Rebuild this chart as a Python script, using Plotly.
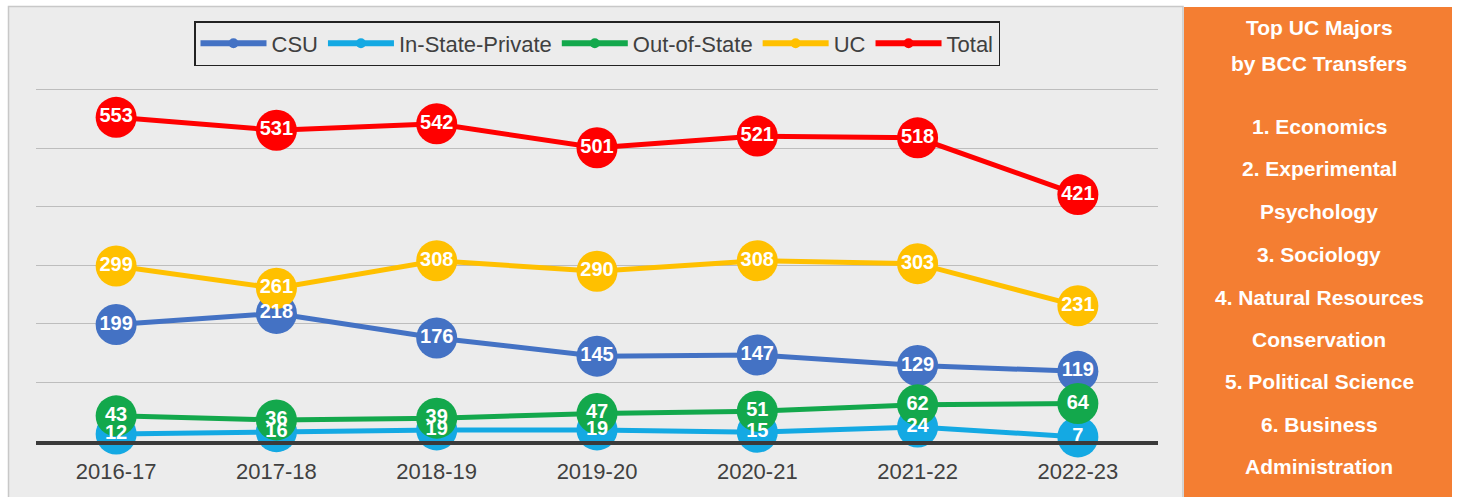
import plotly.graph_objects as go

years = ["2016-17", "2017-18", "2018-19", "2019-20", "2020-21", "2021-22", "2022-23"]
csu = [199, 218, 176, 145, 147, 129, 119]
in_state_private = [12, 16, 19, 19, 15, 24, 7]
out_of_state = [43, 36, 39, 47, 51, 62, 64]
uc = [299, 261, 308, 290, 308, 303, 231]
total = [553, 531, 542, 501, 521, 518, 421]

series_names = ["CSU", "In-State-Private", "Out-of-State", "UC", "Total"]
series_values = [csu, in_state_private, out_of_state, uc, total]
series_colors = ["#4472C4", "#14A9E3", "#13A84C", "#FFC000", "#FF0000"]

panel_lines = ["Top UC Majors", "by BCC Transfers", "1. Economics", "2. Experimental",
               "Psychology", "3. Sociology", "4. Natural Resources", "Conservation",
               "5. Political Science", "6. Business", "Administration"]
panel_line_y = [28, 64, 126, 168, 211, 254, 297, 339, 381, 424, 466]

W, H = 1459, 497
L, R, T, B = 36, 301, 84, 56

fig = go.Figure()

# lines + markers
for name, vals, col in zip(series_names, series_values, series_colors):
    fig.add_trace(go.Scatter(
        x=years, y=vals, name=name, mode="lines+markers", showlegend=False,
        line=dict(color=col, width=5),
        marker=dict(size=41, color=col, line=dict(width=0)),
        cliponaxis=False,
    ))
# data labels drawn above all markers
for name, vals, col in zip(series_names, series_values, series_colors):
    fig.add_trace(go.Scatter(
        x=years, y=vals, mode="text", text=[str(v) for v in vals],
        textposition="middle center", showlegend=False, hoverinfo="skip",
        textfont=dict(family="Liberation Sans, Arial, sans-serif", size=20, color="white", weight="bold"),
        cliponaxis=False,
    ))
# legend entries (small markers like the reference legend)
for name, col in zip(series_names, series_colors):
    fig.add_trace(go.Scatter(
        x=[None], y=[None], name=name, mode="lines+markers",
        line=dict(color=col, width=6), marker=dict(size=10, color=col),
    ))

def px_x(x):
    return (x - L) / (W - L - R)

def px_y(y):
    return (H - B - y) / (H - T - B)

shapes = [
    dict(type="rect", xref="paper", yref="paper", layer="below",
         x0=px_x(8.5), x1=px_x(1183), y0=px_y(6.5), y1=px_y(500),
         fillcolor="#ECECEC", line=dict(color="#C8C8C8", width=1.5)),
    dict(type="rect", xref="paper", yref="paper", layer="below",
         x0=px_x(1184), x1=px_x(1452), y0=px_y(7), y1=px_y(500),
         fillcolor="#F47E32", line=dict(width=0)),
]

annotations = []
for txt, yy in zip(panel_lines, panel_line_y):
    annotations.append(dict(
        text=txt, xref="paper", yref="paper", x=px_x(1319), y=px_y(yy),
        xanchor="center", yanchor="middle", showarrow=False,
        font=dict(family="Liberation Sans, Arial, sans-serif", size=21, color="white", weight="bold"),
    ))

fig.update_layout(
    width=W, height=H,
    margin=dict(l=L, r=R, t=T, b=B),
    paper_bgcolor="white", plot_bgcolor="rgba(0,0,0,0)",
    shapes=shapes, annotations=annotations,
    showlegend=True,
    legend=dict(orientation="h", x=px_x(597), y=px_y(21), xanchor="center", yanchor="top",
                bordercolor="#222222", borderwidth=1.5, bgcolor="rgba(0,0,0,0)",
                font=dict(family="Liberation Sans, Arial, sans-serif", size=22, color="#404040"),
                itemwidth=66, traceorder="normal"),
    xaxis=dict(range=[-0.5, 6.5], showgrid=False, showline=True, linecolor="#3A3A3A", linewidth=4,
               ticks="outside", ticklen=8, tickcolor="rgba(0,0,0,0)",
               tickfont=dict(family="Liberation Sans, Arial, sans-serif", size=22, color="#404040"),
               zeroline=False, fixedrange=True),
    yaxis=dict(range=[0, 610], dtick=100, showgrid=True, gridcolor="#BDBDBD", gridwidth=1,
               showticklabels=False, zeroline=False, showline=False, fixedrange=True),
)

fig.write_html("out.html", config={"displayModeBar": False},
               post_script="document.body.style.margin='0';document.body.style.overflow='hidden';")
